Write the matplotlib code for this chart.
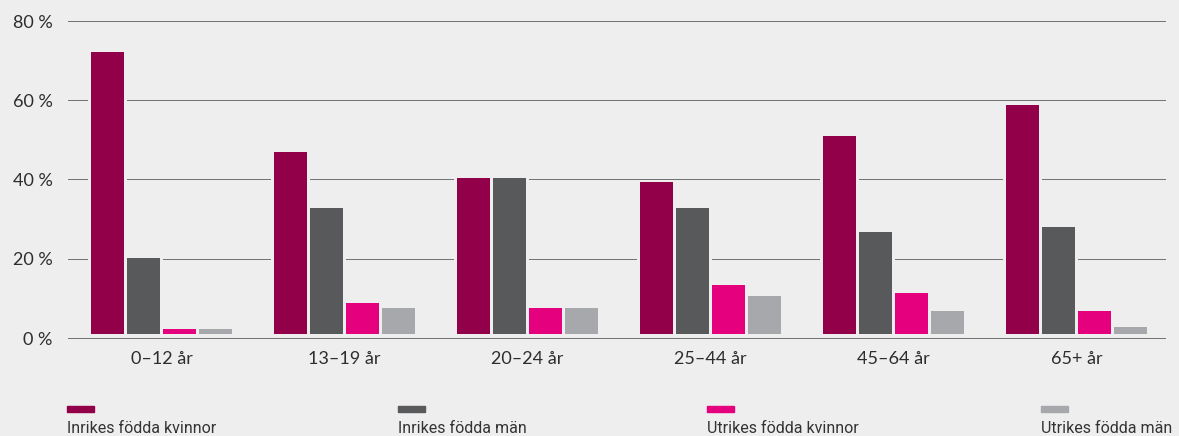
import matplotlib
matplotlib.use("Agg")
import matplotlib.pyplot as plt
from matplotlib.patches import Rectangle
import numpy as np

categories = ["0–12 år", "13–19 år", "20–24 år", "25–44 år", "45–64 år", "65+ år"]
series_names = ["Inrikes födda kvinnor", "Inrikes födda män",
                "Utrikes födda kvinnor", "Utrikes födda män"]
inrikes_kvinnor = [72.2, 47.0, 40.4, 39.4, 51.0, 58.7]
inrikes_man = [20.2, 32.8, 40.4, 32.8, 26.8, 28.0]
utrikes_kvinnor = [2.2, 8.8, 7.6, 13.4, 11.4, 6.8]
utrikes_man = [2.2, 7.6, 7.6, 10.6, 6.8, 2.9]
yticks = [0, 20, 40, 60, 80]
ytick_labels = ["0 %", "20 %", "40 %", "60 %", "80 %"]

colors = ["#93004a", "#58595b", "#e5007d", "#a7a8ab"]
bg = "#eeeeee"
W, H = 1179, 436

plt.rcParams["font.family"] = ["Lato", "DejaVu Sans"]
fig = plt.figure(figsize=(W / 100, H / 100), dpi=100, facecolor=bg)
ax = fig.add_axes([68 / W, (H - 338) / H, (1165 - 68) / W, (338 - 21) / H])
ax.set_facecolor(bg)

series = [inrikes_kvinnor, inrikes_man, utrikes_kvinnor, utrikes_man]
x = np.arange(len(categories))
step = 36 / 183
bar_w = 33 / 183
mask_w = 39 / 183
base = 0.9
for i, vals in enumerate(series):
    v = np.array(vals)
    pos = x + (i - 1.5) * step
    ax.bar(pos, v - base, bottom=base, width=mask_w, color=bg,
           linewidth=0, zorder=2)
    ax.bar(pos, v - base, bottom=base, width=bar_w, color=colors[i],
           linewidth=0, zorder=3)

for t in yticks:
    ax.axhline(t, color="#707070", linewidth=0.7, zorder=1, clip_on=False)

ax.set_xlim(-0.511, 5.484)
ax.set_ylim(0, 80)
ax.set_yticks(yticks)
ax.set_yticklabels(ytick_labels, fontsize=13, color="#2d2d2d")
ax.set_xticks(x)
ax.set_xticklabels(categories, fontsize=13, color="#2d2d2d")
ax.tick_params(axis="y", length=0, pad=11)
ax.tick_params(axis="x", length=0, pad=9)
for s in ax.spines.values():
    s.set_visible(False)

leg_x = [67, 398, 707, 1041]
for i, name in enumerate(series_names):
    fig.add_artist(Rectangle((leg_x[i] / W, 1 - 412 / H), 27 / W, 6 / H,
                             transform=fig.transFigure, color=colors[i]))
    fig.text(leg_x[i] / W, 1 - 433 / H, name, fontsize=11.5, color="#333333",
             family=["Roboto", "DejaVu Sans"], ha="left", va="baseline")

fig.savefig("out.png", dpi=100, facecolor=bg)
